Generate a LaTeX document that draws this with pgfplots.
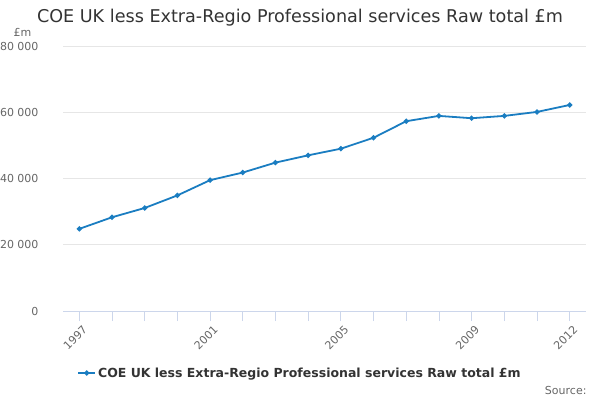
\documentclass[border=0pt]{standalone}
\usepackage{pgfplots}
\pgfplotsset{compat=1.18}
\usepackage{fontspec}
\setmainfont{DejaVu Sans}
\definecolor{linec}{HTML}{1A7DC1}
\definecolor{gridc}{HTML}{E6E6E6}
\definecolor{axc}{HTML}{CCD6EB}
\definecolor{txt}{HTML}{333333}
\definecolor{lab}{HTML}{666666}
\begin{document}
\begin{tikzpicture}[x=1pt,y=1pt]
\path[use as bounding box] (0,0) rectangle (600,400);
\begin{axis}[
  at={(63pt,89pt)}, anchor=south west,
  scale only axis, width=523pt, height=265pt,
  xmin=1996.5, xmax=2012.5, ymin=0, ymax=80000,
  axis x line*=bottom, axis y line*=left,
  x axis line style={draw=axc, line width=0.8pt, -},
  y axis line style={draw=none},
  xtick={1997,2001,2005,2009,2012},
  xticklabels={1997,2001,2005,2009,2012},
  minor xtick={1998,1999,2000,2002,2003,2004,2006,2007,2008,2010,2011},
  ytick={0,20000,40000,60000,80000},
  ymajorgrids, grid style={gridc, line width=0.8pt},
  tick align=outside,
  major tick length=10pt, minor tick length=10pt,
  xtick style={draw=axc, line width=0.8pt},
  xminorgrids=false,
  ytick style={draw=none},
  scaled y ticks=false,
  /pgf/number format/.cd, 1000 sep={\ }, assume math mode=true,
  /pgfplots/.cd,
  yticklabel style={font=\fontsize{11}{13}\selectfont, text=lab, anchor=east, xshift=-11pt},
  xticklabel style={font=\fontsize{11}{13}\selectfont, text=lab, rotate=45, anchor=north east, xshift=3pt, yshift=-1pt},
  clip=false,
  legend style={at={(0.453,-0.234)}, anchor=center, draw=none, fill=none,
    font=\bfseries\fontsize{12.5}{14}\selectfont, text=txt},
  legend cell align=left,
]
\addplot[linec, line width=1.8pt, mark=*, mark size=1.6pt, mark options={fill=linec, draw=linec}]
coordinates {
(1997,24800) (1998,28300) (1999,31100) (2000,34900) (2001,39500)
(2002,41800) (2003,44800) (2004,47000) (2005,49000) (2006,52300)
(2007,57300) (2008,58900) (2009,58200) (2010,58900) (2011,60100)
(2012,62200)
};
\addlegendentry{COE UK less Extra-Regio Professional services Raw total £m}
\end{axis}
\node[text=txt, font=\fontsize{17.6}{21}\selectfont] at (300,382) {COE UK less Extra-Regio Professional services Raw total £m};
\node[text=lab, font=\fontsize{11}{13}\selectfont, anchor=west] at (10,368) {£m};
\node[text=lab, font=\fontsize{11}{13}\selectfont, anchor=east] at (590,10) {Source:};
\end{tikzpicture}
\end{document}
